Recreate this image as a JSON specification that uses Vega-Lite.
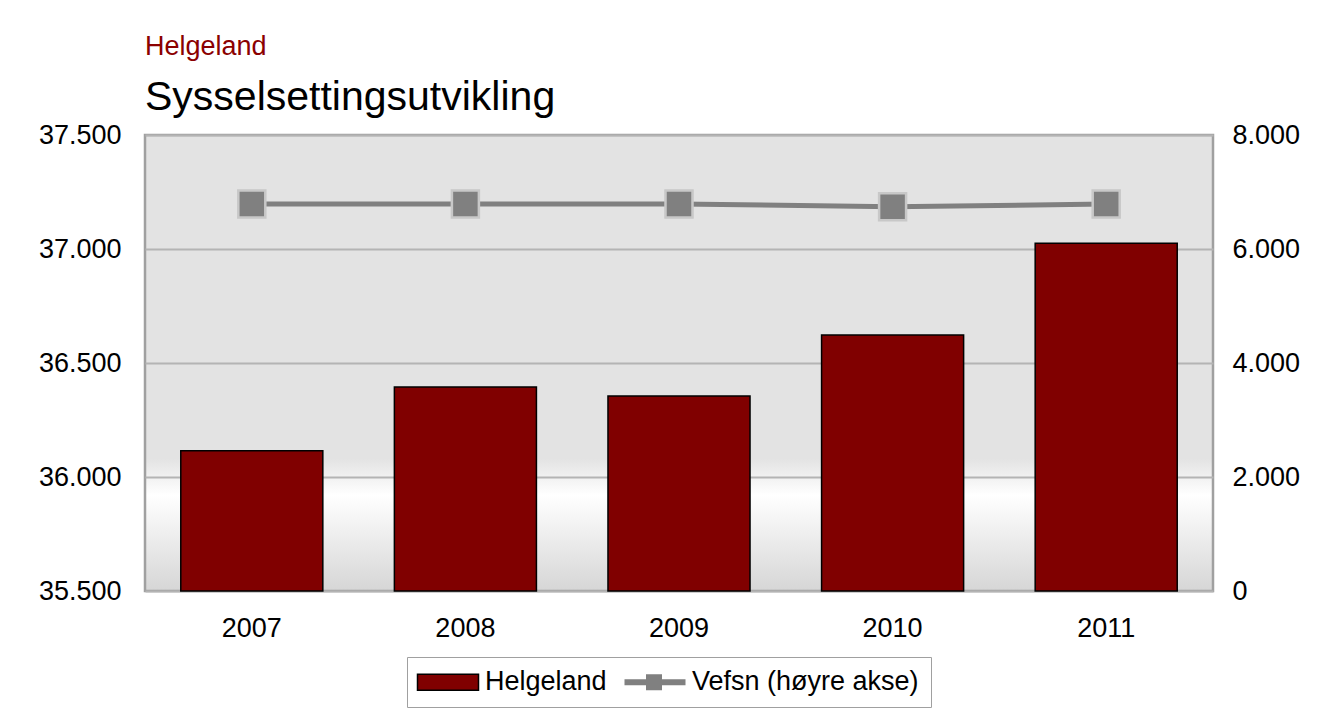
{
  "$schema": "https://vega.github.io/schema/vega-lite/v6.json",
  "width": 1068,
  "height": 456,
  "autosize": {"type": "none"},
  "padding": {"left": 145, "top": 135, "right": 108, "bottom": 128},
  "background": "white",
  "title": {
    "text": "Helgeland",
    "subtitle": "Sysselsettingsutvikling",
    "anchor": "start",
    "frame": "group",
    "color": "#8B0000",
    "fontSize": 27,
    "font": "Liberation Sans",
    "fontWeight": "normal",
    "subtitleFont": "Liberation Sans",
    "subtitleFontSize": 41,
    "subtitleColor": "black",
    "subtitlePadding": 17,
    "offset": 2
  },
  "view": {
    "stroke": "#a0a0a0",
    "strokeWidth": 2.5,
    "fill": {
      "gradient": "linear",
      "x1": 0, "y1": 0, "x2": 0, "y2": 1,
      "stops": [
        {"offset": 0, "color": "#e3e3e3"},
        {"offset": 0.71, "color": "#e3e3e3"},
        {"offset": 0.79, "color": "#ffffff"},
        {"offset": 1, "color": "#d6d6d6"}
      ]
    }
  },
  "data": {
    "values": [
      {"year": "2007", "helgeland": 36115, "vefsn": 6790},
      {"year": "2008", "helgeland": 36395, "vefsn": 6790},
      {"year": "2009", "helgeland": 36355, "vefsn": 6790},
      {"year": "2010", "helgeland": 36623, "vefsn": 6740},
      {"year": "2011", "helgeland": 37025, "vefsn": 6790}
    ]
  },
  "encoding": {
    "x": {
      "field": "year",
      "type": "ordinal",
      "scale": {"paddingInner": 0.335, "paddingOuter": 0.1675},
      "axis": {
        "title": null,
        "labelAngle": 0,
        "ticks": false,
        "domain": false,
        "grid": false,
        "labelFont": "Liberation Sans",
        "labelFontSize": 27,
        "labelColor": "black",
        "labelPadding": 24
      }
    }
  },
  "layer": [
    {
      "encoding": {
        "y": {
          "field": "helgeland",
          "type": "quantitative",
          "scale": {"domain": [35500, 37500], "zero": false, "nice": false},
          "axis": {
            "orient": "left",
            "title": null,
            "values": [35500, 36000, 36500, 37000, 37500],
            "labelExpr": "replace(format(datum.value, ','), ',', '.')",
            "grid": true,
            "gridColor": "#b4b4b4",
            "gridWidth": 2,
            "ticks": false,
            "domain": false,
            "labelFont": "Liberation Sans",
            "labelFontSize": 27,
            "labelColor": "black",
            "labelPadding": 24
          }
        },
        "y2": {"datum": 35500}
      },
      "layer": [
        {
          "mark": {"type": "bar"},
          "encoding": {
            "color": {
              "datum": "Helgeland",
              "type": "nominal",
              "scale": {"domain": ["Helgeland", "Vefsn (høyre akse)"], "range": ["#800000", "#808080"]},
              "legend": {
                "orient": "none",
                "legendX": 262,
                "legendY": 522,
                "direction": "horizontal",
                "title": null,
                "labelFont": "Liberation Sans",
                "labelFontSize": 27,
                "labelColor": "black",
                "labelLimit": 0,
                "strokeColor": "#a0a0a0",
                "fillColor": "white",
                "padding": 11.5,
                "symbolSize": 400,
                "labelOffset": 39.5,
                "columnPadding": 14,
                "symbolType": {"expr": "datum.value === 'Helgeland' ? 'M-1.45,-0.8H4.65V0.8H-1.45Z' : 'M-1.45,-0.3H4.65V0.3H-1.45Z M0.7,-0.8H2.3V0.8H0.7Z'"},
                "symbolStrokeColor": {"expr": "datum.value === 'Helgeland' ? 'black' : 'transparent'"},
                "symbolStrokeWidth": 1.5,
                "symbolOpacity": 1
              }
            }
          }
        },
        {
          "mark": {"type": "bar", "filled": false, "fill": "transparent", "stroke": "black", "strokeWidth": 1.5},
          "encoding": {}
        }
      ]
    },
    {
      "encoding": {
        "y": {
          "field": "vefsn",
          "type": "quantitative",
          "scale": {"domain": [0, 8000], "nice": false},
          "axis": {
            "orient": "right",
            "title": null,
            "values": [0, 2000, 4000, 6000, 8000],
            "labelExpr": "replace(format(datum.value, ','), ',', '.')",
            "grid": false,
            "ticks": false,
            "domain": false,
            "labelFont": "Liberation Sans",
            "labelFontSize": 27,
            "labelColor": "black",
            "labelPadding": 19
          }
        }
      },
      "layer": [
        {
          "mark": {"type": "line", "strokeWidth": 5, "color": "#808080"},
          "encoding": {}
        },
        {
          "mark": {"type": "point", "shape": "square", "filled": true, "size": 729, "fill": "#808080", "stroke": "#c8c8c8", "strokeWidth": 2.5, "opacity": 1},
          "encoding": {}
        }
      ]
    }
  ],
  "resolve": {"scale": {"y": "independent"}}
}
